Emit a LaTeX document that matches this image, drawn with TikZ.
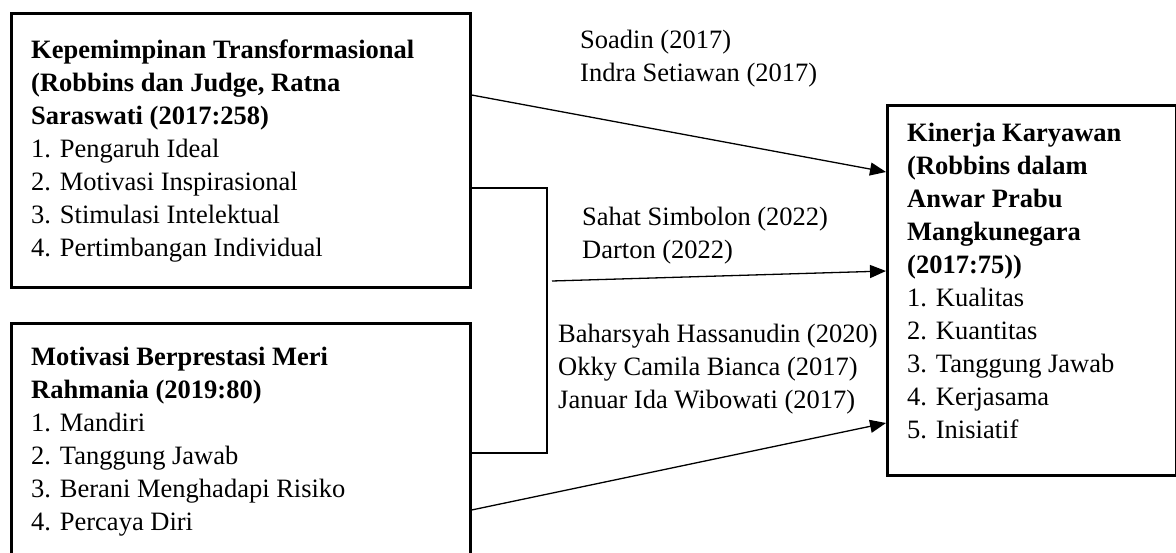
\documentclass[tikz,border=0pt]{standalone}
\usepackage{fontspec}
\setmainfont{Liberation Serif}
\usetikzlibrary{arrows.meta}
\begin{document}
\begin{tikzpicture}[x=1pt,y=-1pt,
  box/.style={draw,line width=2.6pt,inner sep=0pt,anchor=north west},
  txt/.style={anchor=base west,inner sep=0pt,align=left,font=\fontsize{26.5}{33}\selectfont},
  conn/.style={line width=1.3pt},
  arr/.style={conn,-{Triangle[length=16pt,width=13pt]}}]
\useasboundingbox (0,0) rectangle (1176,552);
\clip (0,0) rectangle (1176,552);
\node[box,minimum width=459pt,minimum height=274pt] (b1) at (10,12) {};
\node[box,minimum width=459pt,minimum height=236pt] (b2) at (10,322) {};
\node[box,minimum width=289pt,minimum height=370pt] (b3) at (886,104) {};
\node[txt] (t1) at (31,256) {\textbf{Kepemimpinan Transformasional}\\\textbf{(Robbins dan Judge, Ratna}\\\textbf{Saraswati (2017:258)}\\1. Pengaruh Ideal\\2. Motivasi Inspirasional\\3. Stimulasi Intelektual\\4. Pertimbangan Individual};
\node[txt] (t2) at (31,530) {\textbf{Motivasi Berprestasi Meri}\\\textbf{Rahmania (2019:80)}\\1. Mandiri\\2. Tanggung Jawab\\3. Berani Menghadapi Risiko\\4. Percaya Diri};
\node[txt] (t3) at (907,438) {\textbf{Kinerja Karyawan}\\\textbf{(Robbins dalam}\\\textbf{Anwar Prabu}\\\textbf{Mangkunegara}\\\textbf{(2017:75))}\\1. Kualitas\\2. Kuantitas\\3. Tanggung Jawab\\4. Kerjasama\\5. Inisiatif};
\node[txt] (l1) at (580,81) {Soadin (2017)\\Indra Setiawan (2017)};
\node[txt] (l2) at (582,258) {Sahat Simbolon (2022)\\Darton (2022)};
\node[txt] (l3) at (558,408) {Baharsyah Hassanudin (2020)\\Okky Camila Bianca (2017)\\Januar Ida Wibowati (2017)};
% connectors
\coordinate (bt) at (547,188);
\coordinate (bb) at (547,453);
\coordinate (bm) at (552,281);
\draw[arr] ([yshift=-83pt]b1.north east) -- ([yshift=-68pt]b3.north west);
\draw[conn] ([yshift=-176pt]b1.north east) -- (bt) -- (bb) -- ([yshift=-131pt]b2.north east);
\draw[arr] (bm) -- ([yshift=-167pt]b3.north west);
\draw[arr] ([yshift=-188pt]b2.north east) -- ([yshift=-319pt]b3.north west);
\end{tikzpicture}
\end{document}
